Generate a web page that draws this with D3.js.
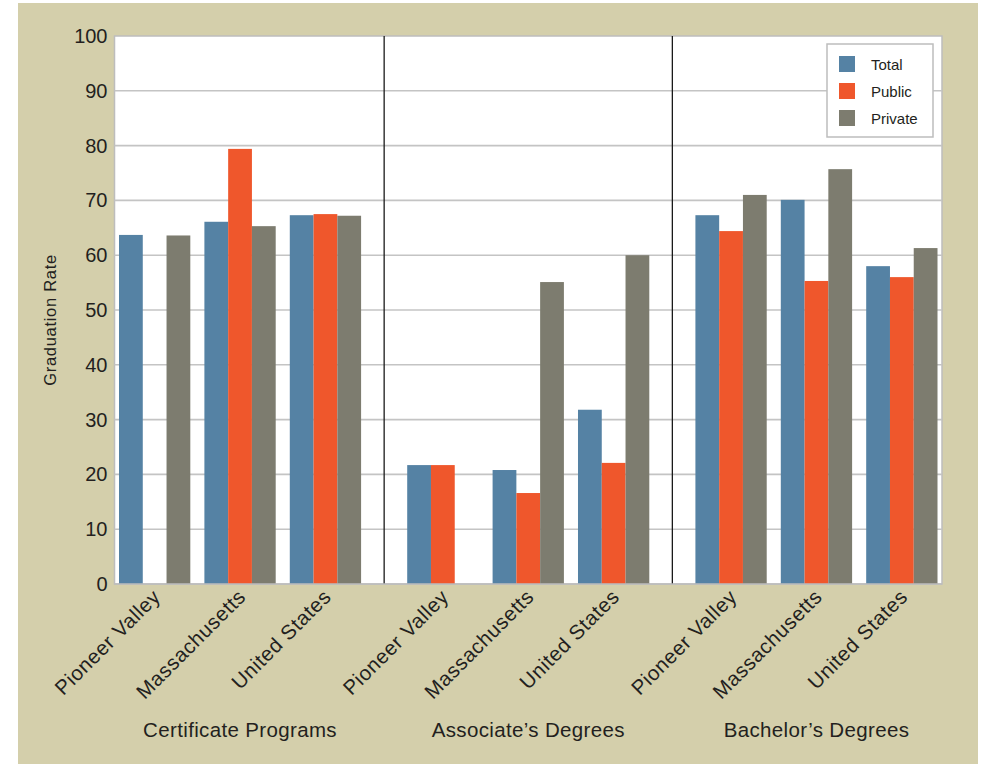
<!DOCTYPE html>
<html>
<head>
<meta charset="utf-8">
<script src="https://cdn.jsdelivr.net/npm/d3@7"></script>
<style>
  html, body { margin: 0; padding: 0; background: #ffffff; }
  svg { display: block; font-family: "Liberation Sans", Arial, Helvetica, sans-serif; }
</style>
</head>
<body>
<svg id="chart" width="983" height="764"></svg>
<script>
// ---- Data ----
const panels = ["Certificate Programs", "Associate\u2019s Degrees", "Bachelor\u2019s Degrees"];
const regions = ["Pioneer Valley", "Massachusetts", "United States"];
const seriesNames = ["Total", "Public", "Private"];
const seriesColors = ["#5582a4", "#ef572c", "#7d7c6f"];
// values per panel, per region: [Total, Public, Private]; null = no data
const certificateValues = [[63.7, null, 63.6], [66.1, 79.4, 65.3], [67.3, 67.5, 67.2]];
const associateValues   = [[21.7, 21.7, null], [20.8, 16.6, 55.1], [31.8, 22.1, 60.0]];
const bachelorValues    = [[67.3, 64.4, 71.0], [70.1, 55.3, 75.7], [58.0, 56.0, 61.3]];
const yTicks = [0, 10, 20, 30, 40, 50, 60, 70, 80, 90, 100];

const panelValues = [certificateValues, associateValues, bachelorValues];

// ---- Layout ----
const svg = d3.select("#chart");
const margin = { left: 114.5, top: 36, right: 41, bottom: 180 };
const W = 983 - margin.left - margin.right;
const H = 764 - margin.top - margin.bottom;
const textColor = "#231f20";

svg.append("rect").attr("x", 18).attr("y", 3).attr("width", 960).attr("height", 761).attr("fill", "#d4cfab");

const g = svg.append("g").attr("transform", `translate(${margin.left},${margin.top})`);

const y = d3.scaleLinear().domain([0, 100]).range([H, 0]);
const xPanel = d3.scaleBand().domain(panels).range([4.5, W - 4.5]).paddingInner(0.16).paddingOuter(0);
const xRegion = d3.scaleBand().domain(regions).range([0, xPanel.bandwidth()]).paddingInner(0.165).paddingOuter(0);
const xSeries = d3.scaleBand().domain(seriesNames).range([0, xRegion.bandwidth()]).padding(0);

// plot background
g.append("rect").attr("x", 0).attr("y", 0).attr("width", W).attr("height", H)
  .attr("fill", "#ffffff").attr("stroke", "#bdbdbd").attr("stroke-width", 1.5);

// gridlines
g.append("g").selectAll("line").data(yTicks.filter(t => t > 0 && t < 100)).join("line")
  .attr("x1", 0).attr("x2", W).attr("y1", d => y(d)).attr("y2", d => y(d))
  .attr("stroke", "#c4c4c4").attr("stroke-width", 1.6);

// y axis labels
const yAxis = d3.axisLeft(y).tickValues(yTicks).tickSize(0).tickPadding(7);
const ya = g.append("g").call(yAxis);
ya.select(".domain").remove();
ya.selectAll("text").attr("font-size", 20).attr("fill", textColor).attr("font-family", "Liberation Sans, Arial, sans-serif");

// panel dividers
const gap = xPanel.step() - xPanel.bandwidth();
g.append("g").selectAll("line").data(panels.slice(0, 2)).join("line")
  .attr("x1", d => xPanel(d) + xPanel.bandwidth() + gap / 2)
  .attr("x2", d => xPanel(d) + xPanel.bandwidth() + gap / 2)
  .attr("y1", 0).attr("y2", H).attr("stroke", "#1a1a1a").attr("stroke-width", 1.3);

// bars
const bars = [];
panels.forEach((p, pi) => {
  regions.forEach((r, ri) => {
    seriesNames.forEach((s, si) => {
      const v = panelValues[pi][ri][si];
      if (v !== null) bars.push({ p, r, s, si, v });
    });
  });
});
g.append("g").selectAll("rect").data(bars).join("rect")
  .attr("x", d => xPanel(d.p) + xRegion(d.r) + xSeries(d.s))
  .attr("width", xSeries.bandwidth())
  .attr("y", d => y(d.v))
  .attr("height", d => H - y(d.v))
  .attr("fill", d => seriesColors[d.si]);

// bottom border redraw
g.append("line").attr("x1", 0).attr("x2", W).attr("y1", H).attr("y2", H).attr("stroke", "#bdbdbd").attr("stroke-width", 1.5);

// category labels (rotated)
const catLabels = [];
panels.forEach(p => regions.forEach(r => catLabels.push({ p, r })));
g.append("g").selectAll("text").data(catLabels).join("text")
  .attr("transform", d => `translate(${xPanel(d.p) + xRegion(d.r) + xRegion.bandwidth() / 2 + 7},${H + 14}) rotate(-45)`)
  .attr("text-anchor", "end")
  .attr("font-size", 20.5)
  .attr("letter-spacing", 0.6)
  .attr("fill", textColor)
  .text(d => d.r);

// panel titles
g.append("g").selectAll("text").data(panels).join("text")
  .attr("x", d => xPanel(d) + xPanel.bandwidth() / 2)
  .attr("y", H + 153)
  .attr("text-anchor", "middle")
  .attr("font-size", 20.5)
  .attr("letter-spacing", 0.35)
  .attr("fill", textColor)
  .text(d => d);

// y axis title
svg.append("text")
  .attr("transform", "translate(56,320) rotate(-90)")
  .attr("text-anchor", "middle")
  .attr("font-size", 16.5)
  .attr("letter-spacing", 0.7)
  .attr("fill", textColor)
  .text("Graduation Rate");

// legend
const lg = svg.append("g").attr("transform", "translate(827,44)");
lg.append("rect").attr("width", 106).attr("height", 93)
  .attr("fill", "#ffffff").attr("stroke", "#bdbdbd").attr("stroke-width", 1.5);
const li = lg.selectAll("g.item").data(seriesNames).join("g").attr("class", "item")
  .attr("transform", (d, i) => `translate(12,${12 + i * 27})`);
li.append("rect").attr("width", 16).attr("height", 16).attr("fill", (d, i) => seriesColors[i]);
li.append("text").attr("x", 32).attr("y", 14).attr("font-size", 15).attr("fill", textColor).text(d => d);
</script>
</body>
</html>
